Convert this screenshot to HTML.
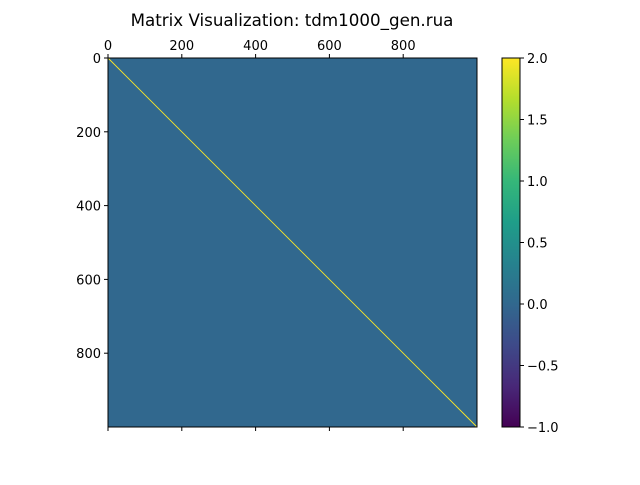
<!DOCTYPE html>
<html><head><meta charset="utf-8"><style>
body{margin:0;background:#fff;font-family:"Liberation Sans","DejaVu Sans",sans-serif}
svg text{font-family:"DejaVu Sans","Liberation Sans",sans-serif;font-size:13px;fill:#000}
</style></head><body>
<svg id="c" width="640" height="480" xmlns="http://www.w3.org/2000/svg"></svg>
<script>
const matrixSize = 1000;
const diagValue = 2;
const offDiagValue = -1;
const bgValue = 0;
const xTicks = [0, 200, 400, 600, 800];
const yTicks = [0, 200, 400, 600, 800];
const cbTicks = [-1.0, -0.5, 0.0, 0.5, 1.0, 1.5, 2.0];
const vmin = -1, vmax = 2;

const svg = document.getElementById('c');
const NS = 'http://www.w3.org/2000/svg';
const L = 108, R = 477, T = 58, B = 427;
const cbL = 502, cbR = 520;
const sx = v => L + v / matrixSize * (R - L);
const sy = v => T + v / matrixSize * (B - T);
const cy = v => B - (v - vmin) / (vmax - vmin) * (B - T);
const vir = [[68,1,84],[72,40,120],[62,74,137],[49,104,142],[38,130,142],[31,158,137],[53,183,121],[109,205,89],[180,222,44],[253,231,37]];
function cmap(v){
  let t = (v - vmin) / (vmax - vmin); t = Math.max(0, Math.min(1, t));
  const p = t * (vir.length - 1), i = Math.min(Math.floor(p), vir.length - 2), f = p - i;
  const c = vir[i].map((a, k) => Math.round(a + (vir[i+1][k] - a) * f));
  return `rgb(${c[0]},${c[1]},${c[2]})`;
}
function el(tag, attrs, parent){
  const e = document.createElementNS(NS, tag);
  for (const k in attrs) e.setAttribute(k, attrs[k]);
  (parent || svg).appendChild(e); return e;
}
const title = el('text', {x: 292, y: 26, 'text-anchor': 'middle', style: 'font-size:16.7px'});


title.textContent = 'Matrix Visualization: tdm1000_gen.rua';

const bg = el('rect', {x: sx(0), y: sy(0), width: sx(matrixSize) - sx(0), height: sy(matrixSize) - sy(0), fill: cmap(bgValue)});


const diag = el('line', {x1: sx(0), y1: sy(0), x2: sx(matrixSize), y2: sy(matrixSize), stroke: cmap(diagValue), 'stroke-width': 0.9});


const frame = el('rect', {x: L, y: T, width: R - L, height: B - T, fill: 'none', stroke: '#000', 'stroke-width': 1});



xTicks.forEach(v => {
  const x = sx(v);
  el('line', {x1: x, y1: T, x2: x, y2: T - 4, stroke: '#000'});
  el('line', {x1: x, y1: B, x2: x, y2: B + 4, stroke: '#000'});
  const t = el('text', {x: x, y: T - 8, 'text-anchor': 'middle'});
  
  
  t.textContent = v;
});
yTicks.forEach(v => {
  const y = sy(v);
  el('line', {x1: L, y1: y, x2: L - 4, y2: y, stroke: '#000'});
  const t = el('text', {x: L - 7, y: y + 5, 'text-anchor': 'end'});
  
  
  t.textContent = v;
});

const defs = el('defs', {});
const g = el('linearGradient', {id: 'vg', x1: 0, y1: 1, x2: 0, y2: 0}, defs);
vir.forEach((c, i) => el('stop', {offset: i / (vir.length - 1), 'stop-color': `rgb(${c[0]},${c[1]},${c[2]})`}, g));
const cb = el('rect', {x: cbL, y: T, width: cbR - cbL, height: B - T, fill: 'url(#vg)', stroke: '#000', 'stroke-width': 1});


cbTicks.forEach(v => {
  const y = cy(v);
  el('line', {x1: cbR, y1: y, x2: cbR + 4, y2: y, stroke: '#000'});
  const t = el('text', {x: cbR + 7, y: y + 5});
  
  
  t.textContent = v.toFixed(1).replace('-', '\u2212');
});
</script>
</body></html>
